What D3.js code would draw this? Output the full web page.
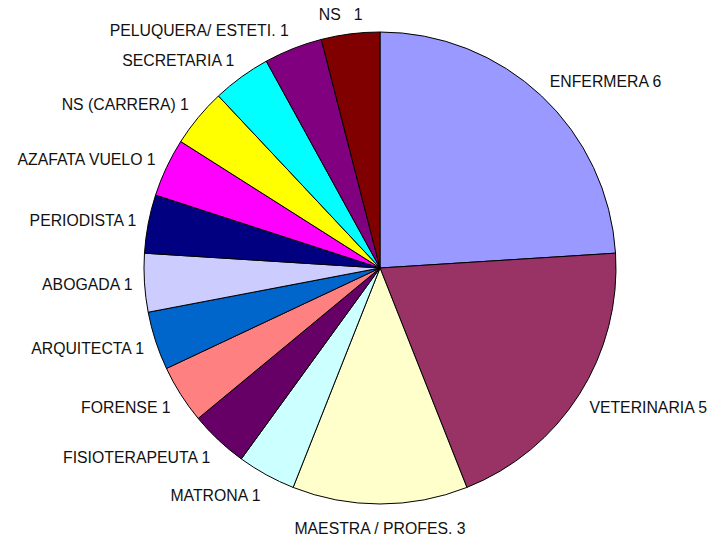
<!DOCTYPE html>
<html>
<head>
<meta charset="utf-8">
<script src="https://cdn.jsdelivr.net/npm/d3@7"></script>
<style>
  body { margin: 0; background: #fff; }
  text { font-family: Arial, "Liberation Sans", sans-serif; font-size: 15.8px; fill: #111; white-space: pre; }
</style>
</head>
<body>
<script>
// profesiones y cantidades, sentido horario desde las 12
const categories = ["ENFERMERA", "VETERINARIA", "MAESTRA / PROFES.", "MATRONA", "FISIOTERAPEUTA",
  "FORENSE", "ARQUITECTA", "ABOGADA", "PERIODISTA", "AZAFATA VUELO", "NS (CARRERA)",
  "SECRETARIA", "PELUQUERA/ ESTETI.", "NS  "];
const values = [6, 5, 3, 1, 1, 1, 1, 1, 1, 1, 1, 1, 1, 1];
const colors = ["#9999FF", "#993366", "#FFFFCC", "#CCFFFF", "#660066", "#FF8080", "#0066CC",
  "#CCCCFF", "#000080", "#FF00FF", "#FFFF00", "#00FFFF", "#800080", "#800000"];

const width = 713, height = 537;
const cx = 380, cy = 268, R = 236;

const svg = d3.select("body").append("svg")
  .attr("width", width)
  .attr("height", height);

const data = categories.map((c, i) => ({ name: c, value: values[i], color: colors[i] }));

const pie = d3.pie().sort(null).value(d => d.value);
const arc = d3.arc().innerRadius(0).outerRadius(R);
const arcs = pie(data);

const g = svg.append("g").attr("transform", `translate(${cx},${cy})`);

g.selectAll("path")
  .data(arcs)
  .enter()
  .append("path")
  .attr("d", arc)
  .attr("fill", d => d.data.color)
  .attr("stroke", "#000")
  .attr("stroke-width", 1);

// etiquetas fuera del circulo, al estilo excel
const labelR = R + 12;
const clamp = v => Math.max(-1, Math.min(1, v));
g.selectAll("text")
  .data(arcs)
  .enter()
  .append("text")
  .attr("text-anchor", "middle")
  .attr("dy", "0.35em")
  .text(d => d.data.name + " " + d.data.value)
  .each(function (d) {
    const a = (d.startAngle + d.endAngle) / 2;
    const s = Math.sin(a), c = Math.cos(a);
    const w = this.getComputedTextLength();
    const px = labelR * s, py = -labelR * c;
    d3.select(this)
      .attr("x", px + clamp(s * 3) * w / 2)
      .attr("y", py - c * (c < 0 ? 12 : 8));
  });
</script>
</body>
</html>
